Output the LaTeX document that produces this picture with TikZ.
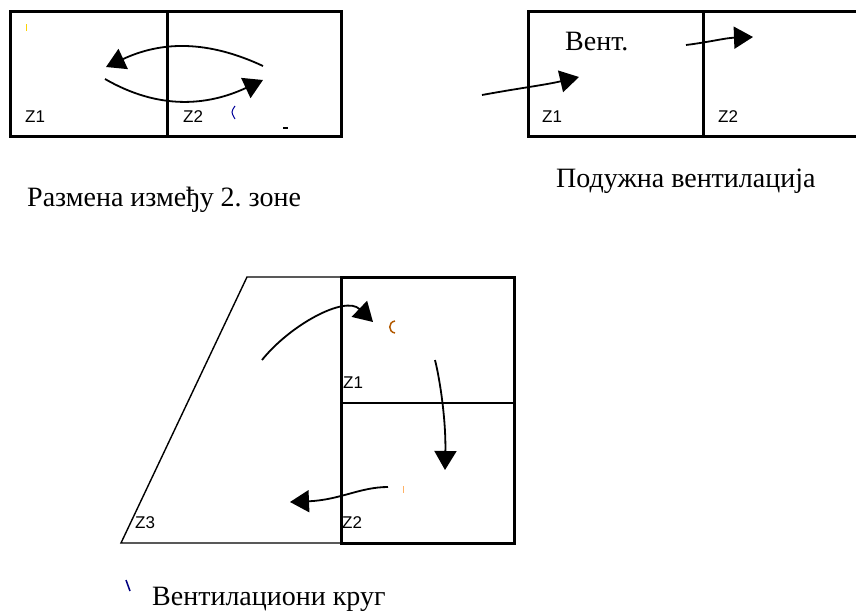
\documentclass[tikz,border=0pt]{standalone}
\usepackage{fontspec}
\setmainfont{Liberation Serif}
\newfontfamily\zonefont{Liberation Sans}
\usetikzlibrary{arrows.meta}

\begin{document}
\begin{tikzpicture}[x=1pt, y=-1pt,
  wall/.style={line width=3pt},
  thinwall/.style={line width=1.4pt},
  flow/.style={line width=1.8pt, -{Triangle[length=19pt,width=22pt]}},
  zone/.style={font=\zonefont\fontsize{17}{17}\selectfont, anchor=base west, inner sep=0pt},
  caption/.style={font=\fontsize{28}{30}\selectfont, anchor=base west, inner sep=0pt}]
\useasboundingbox (0,0) rectangle (856,613);
\clip (0,0) rectangle (856,613);
% exchange between two zones
\begin{scope}
\draw[wall] (10,11) rectangle (341,136);
\draw[wall] (167,11) -- (167,136);
\node[zone] (ex1) at (25,122) {Z1};
\node[zone] (ex2) at (183,122) {Z2};
\coordinate (exa) at (263,66);
\coordinate (exb) at (106,67);
\coordinate (exc) at (105,79);
\coordinate (exd) at (263,80);
\draw[flow] (exa) to[out=155,in=25] (exb);
\draw[flow] (exc) to[out=-30,in=-155] (exd);
\draw[blue!60!black,line width=1pt] (235,106) .. controls (231,112) .. (235,119);
\fill (283,127) rectangle (288,129);
\draw[yellow!70!orange,line width=1pt] (26,24) -- (26,31);
\node[caption] (excap) at (27,206) {Размена између 2.\ зоне};
\end{scope}
% longitudinal ventilation
\begin{scope}
\draw[wall] (528,11) rectangle (880,136);
\draw[wall] (703,11) -- (703,136);
\node[zone] (lo1) at (542,122) {Z1};
\node[zone] (lo2) at (718,122) {Z2};
\node[caption] (vent) at (565,50) {Вент.};
\coordinate (loa) at (482,95);
\coordinate (lob) at (579,77);
\coordinate (loc) at (686,45);
\coordinate (lod) at (753,37);
\draw[flow] (loa) .. controls (520,88) and (545,85) .. (lob);
\draw[flow] (loc) .. controls (710,42) and (725,38) .. (lod);
\node[caption] (locap) at (556,187) {Подужна вентилација};
\end{scope}
% ventilation loop
\begin{scope}
\draw[thinwall] (341,277) -- (247,277) -- (121,543) -- (341,543);
\draw[wall] (341,277) rectangle (514,543);
\draw[thinwall] (341,403) -- (514,403);
\node[zone] (ci1) at (343,388) {Z1};
\node[zone] (ci2) at (342,528) {Z2};
\node[zone] (ci3) at (135,528) {Z3};
\coordinate (cia) at (262,360);
\coordinate (cib) at (373,322);
\coordinate (cic) at (435,360);
\coordinate (cid) at (445,470);
\coordinate (cie) at (388,487);
\coordinate (cif) at (290,502);
\draw[flow] (cia) .. controls (290,325) and (345,295) .. (cib);
\draw[flow] (cic) .. controls (440,380) and (446,420) .. (cid);
\draw[flow] (cie) .. controls (360,487) and (340,500) .. (cif);
\draw[orange!70!black,line width=1.5pt] (395,321) .. controls (388,322) and (388,332) .. (395,333);
\draw[orange!60,line width=1pt] (403,486) -- (403,493);
\draw[blue!50!black,line width=1.5pt] (126,580) -- (130,591);
\node[caption] (cicap) at (152,605) {Вентилациони круг};
\end{scope}
\end{tikzpicture}
\end{document}
